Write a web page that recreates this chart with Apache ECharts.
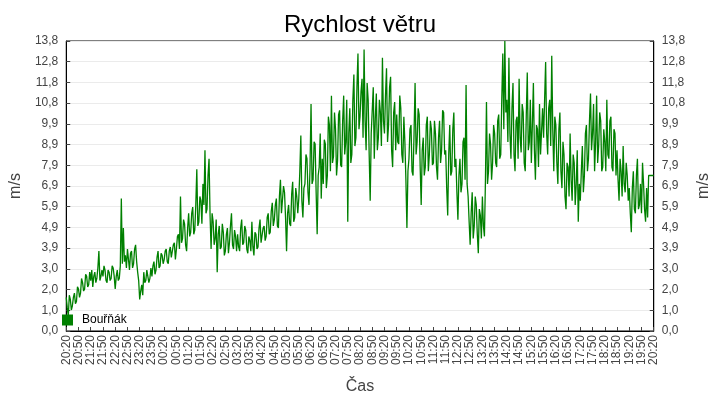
<!DOCTYPE html>
<html>
<head>
<meta charset="utf-8">
<title>Rychlost větru</title>
<script src="https://cdn.jsdelivr.net/npm/echarts@6/dist/echarts.min.js"></script>
<style>
    html, body { margin: 0; padding: 0; background: #fff; }
    #chart { width: 720px; height: 400px; }
</style>
</head>
<body>
<div id="chart"></div>
<script>
// wind speed, one reading every 2.5 minutes from 20:20 to 20:20 next day
const START = '20:20';
const STEP_SEC = 150;
const PER_LABEL = 12; // 30 min between axis labels
const SERIES_NAME = 'Bouřňák';
const Y_MAX = 13.8;
const Y_STEPS = 14;

// one line = 30 minutes
const WIND = [
    1.6, 1.1, 0.7, 1.7, 1.5, 1.0, 1.2, 1.6, 1.8, 1.3, 1.4, 2.1,
    2.0, 1.6, 1.8, 2.5, 2.3, 1.9, 2.0, 2.7, 2.6, 2.1, 2.2, 2.8,
    2.4, 2.9, 2.1, 2.6, 2.8, 2.3, 2.5, 3.0, 3.8, 2.4, 2.6, 2.9,
    2.6, 3.1, 2.9, 2.4, 2.3, 2.9, 2.8, 2.4, 2.5, 3.1, 3.0, 2.6,
    2.0, 2.6, 2.9, 2.4, 2.5, 3.1, 6.3, 3.2, 4.9, 3.3, 3.6, 3.0,
    3.9, 3.4, 2.9, 3.7, 3.8, 3.0, 3.2, 3.9, 4.1, 3.3, 2.8, 2.4,
    1.5, 1.9, 2.2, 1.7, 2.8, 2.3, 2.4, 2.9, 2.9, 2.3, 2.5, 3.0,
    2.6, 3.1, 3.3, 2.7, 2.9, 3.5, 3.8, 3.0, 3.1, 3.7, 3.6, 3.2,
    3.4, 3.8, 3.9, 3.3, 3.2, 3.8, 4.0, 3.5, 3.5, 4.1, 4.2, 3.4,
    3.9, 4.5, 4.6, 3.9, 6.4, 4.2, 4.4, 5.3, 5.1, 4.1, 3.8, 4.9,
    5.6, 4.5, 4.7, 5.6, 5.9, 4.6, 4.8, 6.0, 7.7, 5.0, 5.2, 6.4,
    6.2, 5.1, 7.0, 6.0, 8.6, 5.6, 5.8, 7.4, 8.2, 5.5, 3.9, 5.6,
    5.2, 4.1, 4.4, 5.3, 2.8, 4.6, 5.0, 3.9, 4.0, 5.1, 4.7, 3.6,
    3.8, 4.6, 4.9, 3.7, 4.2, 5.0, 5.6, 4.1, 3.9, 4.8, 4.5, 3.8,
    4.6, 4.0, 3.8, 4.9, 5.3, 4.1, 4.2, 5.0, 4.8, 3.9, 3.7, 4.5,
    4.3, 3.8, 5.2, 4.0, 3.6, 4.7, 4.6, 3.9, 4.0, 4.9, 5.3, 4.2,
    4.2, 4.9, 5.0, 4.3, 4.5, 5.4, 5.6, 4.6, 4.7, 5.7, 6.1, 5.0,
    5.3, 6.0, 6.3, 5.0, 4.9, 6.4, 7.2, 5.6, 5.6, 6.9, 6.6, 5.4,
    3.8, 5.6, 6.0, 5.1, 5.0, 6.5, 7.1, 5.2, 5.4, 6.8, 6.4, 5.6,
    6.3, 7.6, 9.3, 6.2, 5.4, 6.8, 7.0, 8.4, 8.2, 6.6, 6.0, 7.8,
    10.8, 7.0, 7.2, 9.0, 8.9, 6.6, 4.6, 7.4, 7.8, 9.4, 6.3, 8.2,
    7.0, 9.1, 8.9, 6.8, 7.4, 10.2, 9.8, 7.6, 11.2, 8.0, 8.3, 10.4,
    9.6, 7.4, 8.1, 10.3, 10.5, 7.9, 7.8, 10.0, 11.2, 8.4, 9.0, 11.0,
    5.2, 9.4, 10.6, 8.0, 8.4, 11.0, 12.2, 8.8, 9.2, 11.6, 13.2, 9.6,
    10.2, 11.4, 12.0, 9.2, 13.4, 10.0, 8.6, 11.8, 11.0, 8.4, 6.2, 9.4,
    10.5, 11.6, 8.2, 10.1, 11.3, 8.6, 9.2, 11.0, 10.4, 8.8, 13.0, 10.0,
    9.4, 11.2, 12.5, 9.0, 9.8, 11.6, 12.1, 8.6, 7.8, 10.4, 10.9, 8.6,
    10.3, 9.0, 8.9, 11.2, 10.6, 8.4, 8.0, 10.2, 9.0, 7.2, 4.9, 7.6,
    8.2, 9.6, 9.8, 7.6, 7.4, 9.4, 11.8, 8.4, 9.0, 10.6, 10.3, 7.8,
    6.0, 8.6, 9.2, 7.4, 7.8, 9.8, 10.2, 7.6, 8.4, 10.0, 9.6, 7.9,
    8.0, 10.0, 9.4, 7.8, 7.2, 9.2, 10.0, 8.0, 8.6, 10.5, 10.4, 8.4,
    8.6, 6.8, 5.5, 8.4, 9.8, 7.4, 7.6, 9.6, 10.4, 7.8, 8.2, 6.6,
    5.3, 7.4, 8.2, 6.6, 7.0, 9.0, 9.2, 7.2, 11.7, 7.0, 6.4, 5.2,
    4.1, 5.6, 6.6, 4.4, 5.0, 6.4, 6.0, 4.6, 3.7, 5.8, 5.5, 4.4,
    6.4, 5.0, 4.5, 7.2, 10.9, 7.0, 7.6, 9.4, 8.9, 7.2, 8.0, 9.8,
    9.4, 8.0, 7.8, 10.0, 10.3, 8.2, 8.4, 11.0, 13.2, 9.6, 13.8, 10.4,
    11.0, 9.0, 13.0, 9.4, 8.2, 10.6, 11.8, 8.4, 7.6, 10.0, 10.2, 8.2,
    12.0, 9.2, 8.5, 10.8, 10.4, 8.0, 7.6, 10.2, 12.3, 8.6, 9.0, 11.0,
    8.0, 9.8, 11.8, 8.6, 7.2, 9.8, 9.6, 7.8, 10.8, 8.4, 8.4, 10.6,
    9.2, 11.0, 12.8, 9.4, 8.4, 10.6, 11.0, 8.8, 13.1, 9.6, 7.6, 10.2,
    9.8, 8.0, 7.0, 9.6, 10.4, 7.6, 6.8, 9.0, 8.4, 6.4, 5.8, 8.0,
    7.8, 6.4, 9.4, 7.2, 6.2, 8.4, 8.0, 6.0, 7.0, 8.6, 5.2, 7.0,
    6.2, 7.6, 8.8, 6.6, 7.4, 9.4, 9.8, 7.6, 8.2, 10.0, 11.3, 8.6,
    9.4, 10.8, 7.6, 9.0, 11.2, 8.0, 8.8, 10.4, 10.0, 7.6, 7.8, 9.6,
    9.0, 7.6, 11.0, 8.4, 8.2, 10.0, 10.2, 7.8, 7.6, 9.6, 9.4, 7.4,
    8.6, 7.2, 6.2, 8.2, 7.6, 6.4, 8.8, 7.0, 6.6, 8.0, 7.4, 6.2,
    6.8, 5.6, 4.7, 6.8, 7.6, 5.8, 5.6, 7.4, 8.2, 5.8, 6.0, 7.0,
    5.6, 8.0, 7.0, 5.8, 5.2, 6.8, 5.4, 7.4, 7.4, 7.4, 7.4, 7.4,
    7.4
];

// time label for each reading
const TIMES = [];
(function () {
    const p = START.split(':');
    let s = (parseInt(p[0]) * 60 + parseInt(p[1])) * 60;
    for (let i = 0; i < WIND.length; i++) {
        const mm = Math.floor(s / 60) % 1440;
        const h = Math.floor(mm / 60);
        const mi = mm % 60;
        TIMES.push((h < 10 ? '0' : '') + h + ':' + (mi < 10 ? '0' : '') + mi);
        s += STEP_SEC;
    }
})();

const FONT = 'Liberation Sans, Arial, sans-serif';
const chart = echarts.init(document.getElementById('chart'));

const yFmt = function (v) {
    return v.toFixed(1).replace('.', ',');
};

const yAxisBase = {
    type: 'value',
    min: 0,
    max: Y_MAX,
    interval: Y_MAX / Y_STEPS,
    name: 'm/s',
    nameLocation: 'middle',
    nameTextStyle: { fontFamily: FONT, fontSize: 16, color: '#444' },
    axisLine: { show: true, lineStyle: { color: '#000' } },
    axisTick: { show: true, inside: true, length: 4, lineStyle: { color: '#444' } },
    axisLabel: { fontFamily: FONT, fontSize: 12, color: '#444', formatter: yFmt }
};

chart.setOption({
    animation: false,
    title: {
        text: 'Rychlost větru',
        left: 'center',
        top: 8,
        textStyle: { fontFamily: FONT, fontSize: 24, fontWeight: 'normal', color: '#000' }
    },
    legend: {
        left: 57,
        top: 309,
        icon: 'rect',
        itemWidth: 11,
        itemHeight: 11,
        itemGap: 6,
        textStyle: { fontFamily: FONT, fontSize: 12, color: '#000', padding: [0, 0, 0, 4] },
        data: [SERIES_NAME]
    },
    grid: {
        left: 55,
        right: 56,
        top: 41,
        bottom: 69,
        show: true,
        borderColor: '#000',
        borderWidth: 1
    },
    xAxis: {
        type: 'category',
        data: TIMES,
        boundaryGap: false,
        name: 'Čas',
        nameLocation: 'middle',
        nameGap: 48,
        nameTextStyle: { fontFamily: FONT, fontSize: 16, color: '#444' },
        axisLine: { lineStyle: { color: '#000' } },
        axisTick: { inside: true, length: 4, interval: PER_LABEL - 1, lineStyle: { color: '#444' } },
        axisLabel: {
            interval: PER_LABEL - 1,
            rotate: 90,
            margin: 4,
            fontFamily: FONT,
            fontSize: 12,
            color: '#444'
        },
        splitLine: { show: false }
    },
    yAxis: [
        Object.assign({}, yAxisBase, {
            position: 'left',
            nameGap: 34,
            splitLine: { show: true, lineStyle: { color: '#ebebeb' } }
        }),
        Object.assign({}, yAxisBase, {
            position: 'right',
            nameGap: 40,
            splitLine: { show: false }
        })
    ],
    series: [{
        name: SERIES_NAME,
        type: 'line',
        data: WIND,
        symbol: 'none',
        sampling: false,
        lineStyle: { width: 1.3, color: '#008000' },
        itemStyle: { color: '#008000' }
    }]
});
</script>
</body>
</html>
